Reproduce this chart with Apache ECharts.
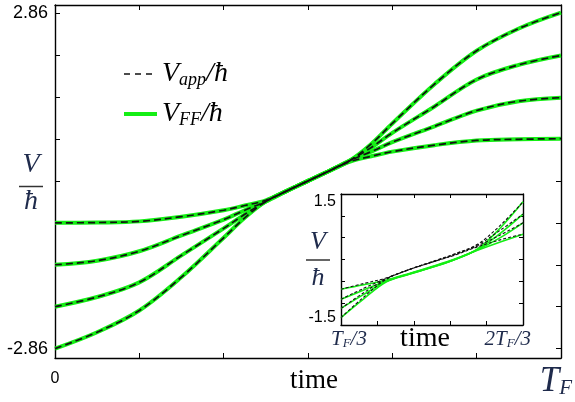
<!DOCTYPE html>
<html>
<head>
<meta charset="utf-8">
<script src="https://cdn.jsdelivr.net/npm/echarts@6/dist/echarts.min.js"></script>
<style>html,body{margin:0;padding:0;background:#fff;}#c{width:575px;height:402px;}</style>
</head>
<body>
<div id="c"></div>
<script>
// ---- data (time in units of T_F/6) ----
const mainX = [0, 0.5, 1, 1.5, 2, 2.25, 2.5, 2.75, 3, 3.25, 3.5, 3.75, 4, 4.5, 5, 5.5, 6];
const mainA = [-2.86, -2.58, -2.21, -1.64, -0.97, -0.63, -0.35, -0.17, 0, 0.17, 0.35, 0.63, 0.98, 1.65, 2.22, 2.60, 2.87];
const mainB = [-2.145, -1.98, -1.73, -1.27, -0.81, -0.57, -0.35, -0.17, 0, 0.17, 0.35, 0.57, 0.82, 1.27, 1.73, 1.98, 2.14];
const mainC = [-1.43, -1.36, -1.20, -0.93, -0.66, -0.50, -0.35, -0.17, 0, 0.17, 0.35, 0.50, 0.66, 0.93, 1.20, 1.36, 1.42];
const mainD = [-0.715, -0.71, -0.69, -0.61, -0.50, -0.42, -0.33, -0.17, 0, 0.17, 0.33, 0.42, 0.50, 0.61, 0.69, 0.71, 0.72];

const insetX = [2, 2.25, 2.5, 2.75, 3, 3.25, 3.5, 3.75, 4];
const insetFF_A = [-1.33, -0.90, -0.51, -0.34, -0.18, 0.00, 0.24, 0.72, 1.32];
const insetFF_B = [-1.12, -0.80, -0.50, -0.33, -0.18, 0.00, 0.23, 0.60, 1.04];
const insetFF_C = [-0.91, -0.70, -0.49, -0.33, -0.17, 0.00, 0.22, 0.50, 0.84];
const insetFF_D = [-0.68, -0.58, -0.47, -0.32, -0.16, 0.01, 0.21, 0.40, 0.58];
const insetApp_A = [-1.33, -0.86, -0.45, -0.23, -0.05, 0.13, 0.35, 0.78, 1.32];
const insetApp_B = [-1.12, -0.76, -0.44, -0.23, -0.06, 0.12, 0.33, 0.67, 1.04];
const insetApp_C = [-0.91, -0.66, -0.43, -0.23, -0.06, 0.11, 0.31, 0.56, 0.84];
const insetApp_D = [-0.68, -0.55, -0.42, -0.23, -0.06, 0.10, 0.29, 0.45, 0.58];

const mainYTicks = [-2.86, -2.145, -1.43, -0.715, 0, 0.715, 1.43, 2.145, 2.86];
const mainYLabels = [-2.86, 2.86];
const mainXLabels = [0];
const insetYLabels = [-1.5, 1.5];

const GREEN = '#14ee14';
const MATH = '#1f2b4c';
const pairs = (xs, ys) => xs.map((x, i) => [x, ys[i]]);

const chart = echarts.init(document.getElementById('c'), null, {renderer: 'canvas'});

const axLine = {show: true, onZero: false, lineStyle: {color: '#000', width: 1.4}};
const tick = (len) => ({show: true, inside: true, length: len, lineStyle: {color: '#000', width: 1}});

function mainSeries(name, ys, isApp) {
  return {
    name: name, type: 'line', xAxisIndex: 0, yAxisIndex: 0,
    data: pairs(mainX, ys), symbol: 'none', smooth: 0.35, z: isApp ? 2 : 1,
    itemStyle: {color: isApp ? '#111' : GREEN, opacity: 0},
    lineStyle: isApp ? {color: '#111', width: 1.7, type: [7, 4]} : {color: GREEN, width: 4},
    silent: true, animation: false
  };
}
function insetSeries(ys, isApp) {
  return {
    name: isApp ? 'app' : 'FF', type: 'line', xAxisIndex: 2, yAxisIndex: 2,
    data: pairs(insetX, ys), symbol: 'none', smooth: 0.35, z: isApp ? 6 : 5,
    itemStyle: {color: isApp ? '#111' : GREEN, opacity: 0},
    lineStyle: isApp ? {color: '#111', width: 1.1, type: [3, 2]} : {color: GREEN, width: 1.6},
    silent: true, animation: false
  };
}

const subRich = {
  v: {fontFamily: 'Liberation Serif', fontStyle: 'italic', fontSize: 28, color: '#000', lineHeight: 30},
  s: {fontFamily: 'Liberation Serif', fontStyle: 'italic', fontSize: 18, color: '#000', lineHeight: 16, verticalAlign: 'bottom'}
};

const option = {
  animation: false,
  backgroundColor: '#fff',
  grid: [
    {left: 55, top: 5, right: 14, bottom: 44, show: false},
    {left: 341, top: 194, right: 52, bottom: 77, show: true, backgroundColor: '#fff', borderWidth: 0, z: 3}
  ],
  legend: {
    left: 117, top: 55, orient: 'vertical', itemWidth: 33, itemHeight: 14, itemGap: 11,
    selectedMode: false,
    data: [
      {name: 'app', itemStyle: {opacity: 0}, lineStyle: {width: 1.7, type: [6, 5], color: '#111'}},
      {name: 'FF', itemStyle: {opacity: 0}, lineStyle: {width: 4, color: GREEN}}
    ],
    itemStyle: {opacity: 0},
    formatter: n => '{v|V}{s|' + n + '}{v|/ħ}',
    textStyle: {rich: subRich}
  },
  xAxis: [
    {gridIndex: 0, type: 'value', min: 0, max: 6, interval: 1, position: 'bottom', axisLine: axLine, axisTick: tick(5),
      axisLabel: {customValues: mainXLabels, margin: 13, fontSize: 16, color: '#000', fontFamily: 'Liberation Sans'}, splitLine: {show: false}},
    {gridIndex: 0, type: 'value', min: 0, max: 6, interval: 1, position: 'top', axisLine: axLine, axisTick: tick(5),
      axisLabel: {show: false}, splitLine: {show: false}},
    {gridIndex: 1, type: 'value', min: 2, max: 4, interval: 0.4, position: 'bottom', axisLine: axLine, axisTick: tick(4),
      axisLabel: {show: false}, splitLine: {show: false}, z: 4},
    {gridIndex: 1, type: 'value', min: 2, max: 4, interval: 0.4, position: 'top', axisLine: axLine, axisTick: tick(4),
      axisLabel: {show: false}, splitLine: {show: false}, z: 4}
  ],
  yAxis: [
    {gridIndex: 0, type: 'value', min: -3.02, max: 3.0, position: 'left', axisLine: axLine,
      axisTick: Object.assign(tick(5), {customValues: mainYTicks}),
      axisLabel: {customValues: mainYLabels, formatter: v => v.toFixed(2), margin: 7, fontSize: 18, color: '#000', fontFamily: 'Liberation Sans'},
      splitLine: {show: false}},
    {gridIndex: 0, type: 'value', min: -3.02, max: 3.0, position: 'right', axisLine: axLine,
      axisTick: Object.assign(tick(5), {customValues: mainYTicks}),
      axisLabel: {show: false}, splitLine: {show: false}},
    {gridIndex: 1, type: 'value', min: -1.5, max: 1.5, interval: 0.5, position: 'left', axisLine: axLine, axisTick: tick(4),
      axisLabel: {customValues: insetYLabels, margin: 5, color: '#000',
        formatter: v => v > 0 ? '{t|1.5}' : '{b|-1.5}',
        rich: {
          t: {fontSize: 16, fontFamily: 'Liberation Sans', color: '#000', padding: [16, 0, 0, 0]},
          b: {fontSize: 16, fontFamily: 'Liberation Sans', color: '#000', padding: [0, 0, 14, 0]}
        }},
      splitLine: {show: false}, z: 4},
    {gridIndex: 1, type: 'value', min: -1.5, max: 1.5, interval: 0.5, position: 'right', axisLine: axLine, axisTick: tick(4),
      axisLabel: {show: false}, splitLine: {show: false}, z: 4}
  ],
  series: [
    mainSeries('FF', mainA, false), mainSeries('FF', mainB, false), mainSeries('FF', mainC, false), mainSeries('FF', mainD, false),
    mainSeries('app', mainA, true), mainSeries('app', mainB, true), mainSeries('app', mainC, true), mainSeries('app', mainD, true),
    insetSeries(insetFF_A, false), insetSeries(insetFF_B, false), insetSeries(insetFF_C, false), insetSeries(insetFF_D, false),
    insetSeries(insetApp_A, true), insetSeries(insetApp_B, true), insetSeries(insetApp_C, true), insetSeries(insetApp_D, true)
  ],
  graphic: [
    // main axis titles
    {type: 'text', z: 10, style: {text: 'time', x: 314, y: 381, align: 'center', verticalAlign: 'middle',
      font: '27px "Liberation Serif"', fill: '#000'}},
    {type: 'text', z: 10, style: {text: '{T|T}{s|F}', x: 572, y: 382, align: 'right', verticalAlign: 'middle',
      rich: {T: {fontFamily: 'Liberation Serif', fontStyle: 'italic', fontSize: 35, fill: MATH, lineHeight: 34},
             s: {fontFamily: 'Liberation Serif', fontStyle: 'italic', fontSize: 21, fill: MATH, lineHeight: 20, verticalAlign: 'bottom'}}}},
    {type: 'text', z: 10, style: {text: 'V', x: 31, y: 165, align: 'center', verticalAlign: 'middle',
      font: 'italic 28px "Liberation Serif"', fill: MATH}},
    {type: 'line', z: 10, shape: {x1: 19, y1: 186.5, x2: 43, y2: 186.5}, style: {stroke: '#333', lineWidth: 1.5}},
    {type: 'text', z: 10, style: {text: 'ħ', x: 31, y: 202, align: 'center', verticalAlign: 'middle',
      font: 'italic 28px "Liberation Serif"', fill: MATH}},
    // inset titles
    {type: 'text', z: 10, style: {text: 'V', x: 318, y: 242, align: 'center', verticalAlign: 'middle',
      font: 'italic 26px "Liberation Serif"', fill: MATH}},
    {type: 'line', z: 10, shape: {x1: 306, y1: 260, x2: 330, y2: 260}, style: {stroke: '#333', lineWidth: 1.5}},
    {type: 'text', z: 10, style: {text: 'ħ', x: 318, y: 278, align: 'center', verticalAlign: 'middle',
      font: 'italic 26px "Liberation Serif"', fill: MATH}},
    {type: 'text', z: 10, style: {text: '{T|T}{s|F}{T|/3}', x: 331, y: 339, align: 'left', verticalAlign: 'middle',
      rich: {T: {fontFamily: 'Liberation Serif', fontStyle: 'italic', fontSize: 21, fill: MATH, lineHeight: 22},
             s: {fontFamily: 'Liberation Serif', fontStyle: 'italic', fontSize: 13, fill: MATH, lineHeight: 12, verticalAlign: 'bottom'}}}},
    {type: 'text', z: 10, style: {text: 'time', x: 425, y: 339, align: 'center', verticalAlign: 'middle',
      font: '28px "Liberation Serif"', fill: '#000'}},
    {type: 'text', z: 10, style: {text: '{T|2T}{s|F}{T|/3}', x: 531, y: 339, align: 'right', verticalAlign: 'middle',
      rich: {T: {fontFamily: 'Liberation Serif', fontStyle: 'italic', fontSize: 21, fill: MATH, lineHeight: 22},
             s: {fontFamily: 'Liberation Serif', fontStyle: 'italic', fontSize: 13, fill: MATH, lineHeight: 12, verticalAlign: 'bottom'}}}}
  ]
};
chart.setOption(option);
</script>
</body>
</html>
